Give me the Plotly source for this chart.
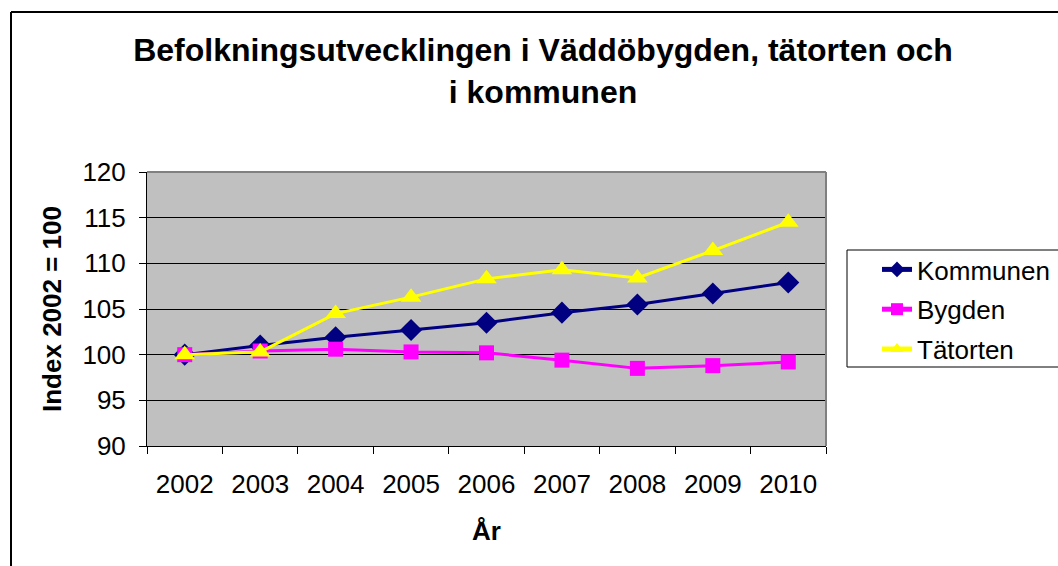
import plotly.graph_objects as go

years = ["2002", "2003", "2004", "2005", "2006", "2007", "2008", "2009", "2010"]
kommunen = [100.0, 101.0, 101.9, 102.7, 103.5, 104.6, 105.5, 106.7, 107.9]
bygden = [100.0, 100.4, 100.6, 100.3, 100.2, 99.4, 98.5, 98.8, 99.2]
tatorten = [100.0, 100.3, 104.5, 106.3, 108.3, 109.3, 108.4, 111.4, 114.5]

title_text = "Befolkningsutvecklingen i Väddöbygden, tätorten och<br>i kommunen"
y_title = "Index 2002 = 100"
x_title = "År"

W, H = 1058, 566
L, R, T, B = 147, 826, 172, 446
pw, ph = R - L, B - T


def px(x):
    return (x - L) / pw


def py(y):
    return (B - y) / ph


FONT = "Liberation Sans, Arial, sans-serif"

fig = go.Figure()
series = [
    ("Kommunen", kommunen, "#000080", "diamond", 17),
    ("Bygden", bygden, "#FF00FF", "square", 15),
    ("Tätorten", tatorten, "#FFFF00", "triangle-up", 18),
]
for i, (name, vals, col, sym, sz) in enumerate(series):
    fig.add_trace(go.Scatter(
        x=years, y=vals, name=name, mode="lines+markers",
        line=dict(color=col, width=3),
        marker=dict(symbol=sym, size=sz, color=col, line=dict(width=0)),
        legendgroup=f"g{i}",
    ))

shapes = [
    dict(type="line", xref="paper", yref="paper", x0=px(11), x1=px(1070), y0=py(12), y1=py(12),
         line=dict(color="#000000", width=2)),
    dict(type="line", xref="paper", yref="paper", x0=px(11), x1=px(11), y0=py(12), y1=py(580),
         line=dict(color="#000000", width=2)),
    dict(type="line", xref="paper", yref="paper", x0=0, x1=1, y0=1, y1=1,
         line=dict(color="#808080", width=2)),
    dict(type="line", xref="paper", yref="paper", x0=1, x1=1, y0=0, y1=1,
         line=dict(color="#808080", width=2)),
    dict(type="rect", xref="paper", yref="paper", x0=px(847), x1=px(1075), y0=py(367), y1=py(250),
         line=dict(color="#000000", width=1), fillcolor="rgba(0,0,0,0)"),
]

fig.update_layout(
    width=W, height=H,
    margin=dict(l=L, r=W - R, t=T, b=H - B, pad=0, autoexpand=False),
    paper_bgcolor="white",
    plot_bgcolor="#C0C0C0",
    font=dict(family=FONT, size=26, color="black"),
    title=dict(text=f"<b>{title_text}</b>", x=543 / W, xanchor="center", y=1 - 61 / H, yanchor="middle",
               font=dict(size=32, family=FONT, color="black")),
    xaxis=dict(
        type="category", range=[-0.5, len(years) - 0.5], autorange=False,
        tickson="boundaries", ticks="outside", ticklen=7, tickcolor="black",
        showline=True, linecolor="black", linewidth=1, showgrid=False, zeroline=False,
        tickfont=dict(size=26), ticklabelstandoff=15,
        title=dict(text=f"<b>{x_title}</b>", font=dict(size=26), standoff=23),
    ),
    yaxis=dict(
        range=[90, 120], dtick=5, ticks="outside", ticklen=7, tickcolor="black",
        showline=True, linecolor="black", linewidth=1, showgrid=True, gridcolor="black", gridwidth=1,
        zeroline=False, tickfont=dict(size=26), ticklabelstandoff=8,
        title=dict(text=f"<b>{y_title}</b>", font=dict(size=26), standoff=13),
    ),
    legend=dict(
        x=px(877), y=py(246), xanchor="left", yanchor="top",
        bgcolor="rgba(0,0,0,0)", borderwidth=0,
        font=dict(size=26, family=FONT), tracegroupgap=3, itemsizing="constant",
    ),
    shapes=shapes,
)

fig.write_html("out.html", config={"displayModeBar": False},
               post_script="document.body.style.margin='0';document.body.style.overflow='hidden';")
